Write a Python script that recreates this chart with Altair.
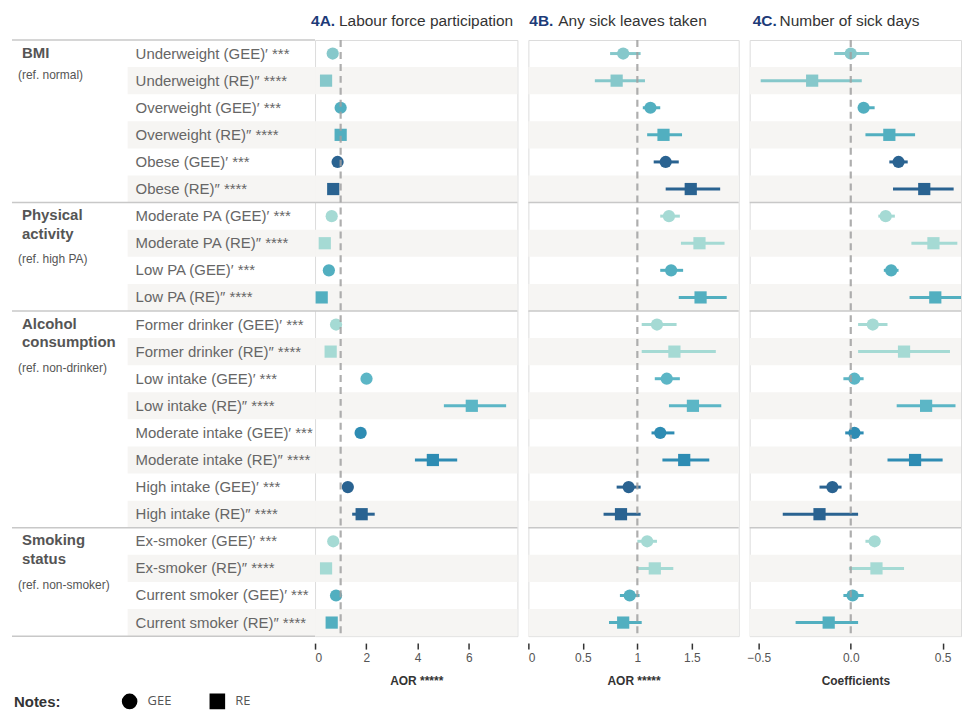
import altair as alt
import pandas as pd

# ---------------- data ----------------
categories = ["Underweight", "Overweight", "Obese",
              "Moderate PA", "Low PA",
              "Former drinker", "Low intake", "Moderate intake", "High intake",
              "Ex-smoker", "Current smoker"]
models = ["GEE", "RE"]
model_marks = {"GEE": "′ ***", "RE": "″ ****"}
cat_colors = ["#86c8cb", "#52afc0", "#2a6391",
              "#a5dad4", "#52afc0",
              "#a5dad4", "#5cb6c6", "#2e8cb3", "#2a6391",
              "#a5dad4", "#52afc0"]

groups = ["BMI", "Physical\nactivity", "Alcohol\nconsumption", "Smoking\nstatus"]
group_refs = ["(ref. normal)", "(ref. high PA)", "(ref. non-drinker)", "(ref. non-smoker)"]
group_sizes = [3, 2, 4, 2]  # categories in each group

# 4A. Labour force participation (AOR)
est_a = [0.69, 0.43, 1.00, 1.00, 0.88, 0.71, 0.65, 0.38, 0.54, 0.26, 0.82,
         0.61, 2.01, 6.12, 1.78, 4.60, 1.28, 1.82, 0.71, 0.43, 0.82, 0.65]
lo_a = [0.62, 0.38, 0.95, 0.92, 0.83, 0.62, 0.60, 0.33, 0.50, 0.22, 0.74,
        0.52, 1.90, 5.03, 1.68, 3.90, 1.20, 1.45, 0.64, 0.37, 0.76, 0.55]
hi_a = [0.76, 0.49, 1.05, 1.09, 0.93, 0.81, 0.70, 0.44, 0.58, 0.31, 0.90,
        0.71, 2.12, 7.46, 1.88, 5.55, 1.36, 2.33, 0.78, 0.50, 0.88, 0.77]

# 4B. Any sick leaves taken (AOR)
est_b = [0.87, 0.81, 1.12, 1.24, 1.26, 1.49, 1.29, 1.57, 1.31, 1.58, 1.18,
         1.34, 1.27, 1.51, 1.21, 1.43, 0.92, 0.85, 1.09, 1.16, 0.93, 0.87]
lo_b = [0.75, 0.61, 1.05, 1.09, 1.15, 1.26, 1.21, 1.40, 1.21, 1.38, 1.04,
        1.04, 1.16, 1.29, 1.13, 1.23, 0.81, 0.69, 1.00, 1.00, 0.84, 0.74]
hi_b = [1.03, 1.07, 1.21, 1.41, 1.38, 1.76, 1.39, 1.80, 1.42, 1.82, 1.36,
        1.72, 1.39, 1.77, 1.34, 1.66, 1.03, 1.03, 1.18, 1.33, 1.02, 1.04]

# 4C. Number of sick days (coefficients)
est_c = [0.00, -0.21, 0.07, 0.21, 0.26, 0.40, 0.19, 0.45, 0.22, 0.46, 0.12,
         0.29, 0.02, 0.41, 0.02, 0.35, -0.10, -0.17, 0.13, 0.14, 0.01, -0.12]
lo_c = [-0.09, -0.49, 0.04, 0.08, 0.21, 0.23, 0.15, 0.33, 0.18, 0.32, 0.04,
        0.04, -0.04, 0.25, -0.03, 0.20, -0.17, -0.37, 0.08, -0.01, -0.04, -0.30]
hi_c = [0.10, 0.06, 0.13, 0.35, 0.31, 0.56, 0.24, 0.58, 0.26, 0.60, 0.20,
        0.54, 0.07, 0.57, 0.07, 0.50, -0.05, 0.04, 0.16, 0.29, 0.07, 0.04]

panel_codes = ["4A.", "4B.", "4C."]
panel_titles = ["Labour force participation", "Any sick leaves taken", "Number of sick days"]
axis_titles = ["AOR *****", "AOR *****", "Coefficients"]
ref_values = [1, 1, 0]
x_domains = [[0, 7.9], [0, 1.93], [-0.55, 0.6]]
x_ticks = [[0, 2, 4, 6], [0, 0.5, 1, 1.5], [-0.5, 0.0, 0.5]]
x_formats = ["d", "~g", ".1f"]

# ---------------- tables ----------------
recs = []
for ci, cat in enumerate(categories):
    for m in models:
        r = len(recs)
        recs.append({"row": r, "cat": cat, "model": m,
                     "label": f"{cat} ({m}){model_marks[m]}",
                     "shade": r % 2 == 1, "y0": r - 0.5, "y1": r + 0.5})
base = pd.DataFrame(recs)

grecs, bounds = [], [-0.5]
start = 0
for g, ref, n in zip(groups, group_refs, group_sizes):
    nlines = g.count("\n") + 1
    grecs.append({"name": g, "ref": ref, "first": start, "refy": start + 0.8 * nlines})
    start += 2 * n
    bounds.append(start - 0.5)
gdf = pd.DataFrame(grecs)
all_bounds = pd.DataFrame({"b": bounds})
inner_bounds = pd.DataFrame({"b": bounds[1:-1]})

# ---------------- layout / style ----------------
H = 598
GAP = 11
LABEL_W = 296                # label panel; its shading runs on into the gap
widths = [203, 211, 212]
FONT = "Liberation Sans"
TFONT = "Liberation Sans"
code_x = [-4, 1, 3]
text_x = [24, 30, 30]

ys = alt.Scale(domain=[-0.5, 21.5], reverse=True, nice=False, zero=False)
color_enc = alt.Color("cat:N", scale=alt.Scale(domain=categories, range=cat_colors), legend=None)
shape_enc = alt.Shape(
    "model:N",
    scale=alt.Scale(domain=models, range=["circle", "square"]),
    legend=alt.Legend(
        orient="none", legendX=5, legendY=655, direction="horizontal",
        title="Notes:", titleOrient="left", titleFontSize=15, titleFontWeight="bold",
        titleColor="#333333", titleFont=FONT, titlePadding=61,
        labelFontSize=13, labelColor="#555555", labelFont="Open Sans",
        symbolFillColor="black", symbolStrokeColor="black", symbolSize=200,
        symbolOpacity=1, columnPadding=35, labelOffset=10,
    ),
)

# ---------------- label panel ----------------
lab_shade = alt.Chart(base).transform_filter("datum.shade").mark_rect(color="#f6f5f3").encode(
    x=alt.value(119), x2=alt.value(LABEL_W + GAP),
    y=alt.Y("y0:Q", scale=ys, axis=None), y2="y1:Q")
lab_rules = alt.Chart(all_bounds).mark_rule(color="#c8c8c8", strokeWidth=1.5).encode(
    x=alt.value(3), x2=alt.value(LABEL_W + GAP), y=alt.Y("b:Q", scale=ys, axis=None))
lab_text = alt.Chart(base).mark_text(align="left", baseline="middle", fontSize=15,
                                     color="#666666", font=FONT).encode(
    x=alt.value(127), y=alt.Y("row:Q", scale=ys, axis=None), text="label:N")
grp_text = alt.Chart(gdf).mark_text(align="left", baseline="top", dy=-8, fontSize=15,
                                    fontWeight="bold", color="#555555", font=FONT,
                                    lineBreak="\n", lineHeight=19).encode(
    x=alt.value(13), y=alt.Y("first:Q", scale=ys, axis=None), text="name:N")
ref_text = alt.Chart(gdf).mark_text(align="left", baseline="middle", fontSize=12,
                                    color="#555555", font=FONT).encode(
    x=alt.value(9), y=alt.Y("refy:Q", scale=ys, axis=None), text="ref:N")
label_panel = alt.layer(lab_shade, lab_rules, lab_text, grp_text, ref_text).properties(
    width=LABEL_W, height=H, view=alt.ViewBackground(stroke="transparent"))


# ---------------- forest panels ----------------
def panel(i, est, lo, hi):
    w = widths[i]
    d = base.assign(est=est, lo=lo, hi=hi)
    xs = alt.Scale(domain=x_domains[i], nice=False, zero=False)
    ax = alt.Axis(values=x_ticks[i], format=x_formats[i], title=axis_titles[i],
                  domain=False, grid=False, offset=7, tickSize=6, tickWidth=1.5,
                  tickColor="#333333", labelPadding=3, labelFontSize=12,
                  labelColor="#555555", labelFont=FONT, titleFont=FONT,
                  titleFontSize=12, titleFontWeight="bold", titleColor="#333333",
                  titlePadding=13)
    shade = alt.Chart(base).transform_filter("datum.shade").mark_rect(color="#f6f5f3").encode(
        x=alt.value(0), x2=alt.value(w), y=alt.Y("y0:Q", scale=ys, axis=None), y2="y1:Q")
    seps = alt.Chart(inner_bounds).mark_rule(color="#c8c8c8", strokeWidth=1.5).encode(
        x=alt.value(0), x2=alt.value(w), y=alt.Y("b:Q", scale=ys, axis=None))
    cis = alt.Chart(d).mark_rule(strokeWidth=3).encode(
        x=alt.X("lo:Q", scale=xs, axis=ax), x2="hi:Q",
        y=alt.Y("row:Q", scale=ys, axis=None), color=color_enc)
    pts = alt.Chart(d).mark_point(filled=True, size=150, opacity=1).encode(
        x=alt.X("est:Q", scale=xs, axis=ax),
        y=alt.Y("row:Q", scale=ys, axis=None), color=color_enc, shape=shape_enc)
    refl = alt.Chart(pd.DataFrame({"r": [ref_values[i]]})).mark_rule(
        color="#a0a0a0", strokeDash=[7, 5], strokeWidth=2.2, opacity=0.85).encode(
        x=alt.X("r:Q", scale=xs, axis=ax), y=alt.value(0), y2=alt.value(H))
    t1 = alt.Chart(pd.DataFrame({"t": [panel_codes[i]]})).mark_text(
        align="left", baseline="middle", fontSize=15.5, fontWeight="bold",
        color="#1d3b78", font=TFONT).encode(
        x=alt.value(code_x[i]), y=alt.value(-19), text="t:N")
    t2 = alt.Chart(pd.DataFrame({"t": [panel_titles[i]]})).mark_text(
        align="left", baseline="middle", fontSize=15.5, color="#333333", font=TFONT).encode(
        x=alt.value(text_x[i]), y=alt.value(-19), text="t:N")
    return alt.layer(shade, seps, cis, pts, refl, t1, t2).properties(width=w, height=H)


pa = panel(0, est_a, lo_a, hi_a)
pb = panel(1, est_b, lo_b, hi_b)
pc = panel(2, est_c, lo_c, hi_c)

chart = alt.hconcat(label_panel, pa, pb, pc, spacing=GAP, bounds="flush").properties(
    padding={"left": 0, "top": 4, "right": 0, "bottom": 0}
).configure_view(stroke="#dcdcdc", strokeWidth=1)

chart.save("out.html", embed_options={"renderer": "svg", "actions": False})
